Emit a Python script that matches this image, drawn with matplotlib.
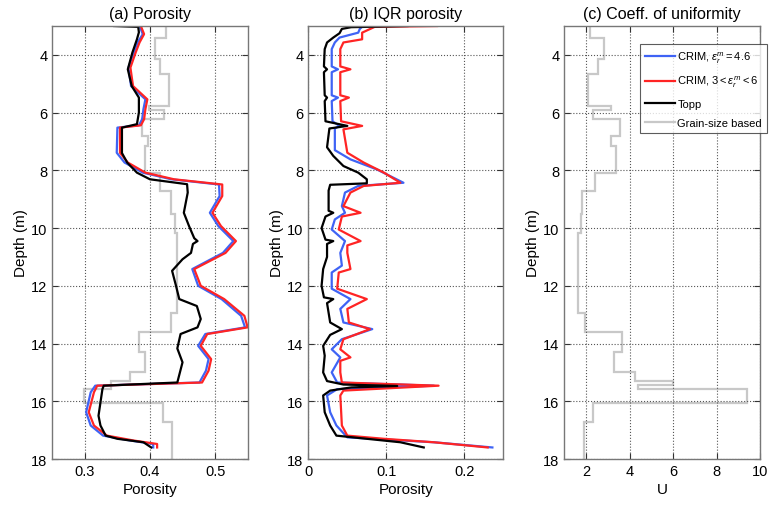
import numpy as np
import matplotlib
matplotlib.use("Agg")
import matplotlib.pyplot as plt

plt.rcParams['font.family'] = ['Liberation Sans', 'DejaVu Sans']
plt.rcParams['mathtext.fontset'] = 'custom'
plt.rcParams['mathtext.rm'] = 'Liberation Sans'
plt.rcParams['mathtext.it'] = 'Liberation Sans:italic'

# ---- (a) porosity ----
topp_depth = [3.00, 3.03, 3.22, 3.46, 3.92, 4.50, 5.08, 5.48, 6.00, 6.40, 6.52, 7.40, 7.73,
              8.08, 8.31, 8.48, 8.77, 9.47, 9.93, 10.35, 10.45, 10.55, 10.86, 11.08, 11.48,
              12.00, 12.46, 12.70, 13.15, 13.44, 13.67, 14.17, 14.65, 15.35, 15.46, 15.58,
              16.04, 16.50, 16.84, 17.19, 17.30, 17.42, 17.60]
topp_por = [0.345, 0.382, 0.383, 0.380, 0.373, 0.366, 0.372, 0.383, 0.383, 0.380, 0.357, 0.357, 0.365,
            0.380, 0.400, 0.457, 0.458, 0.452, 0.460, 0.468, 0.473, 0.466, 0.463, 0.450, 0.434,
            0.440, 0.445, 0.472, 0.478, 0.473, 0.447, 0.442, 0.450, 0.442, 0.329, 0.327,
            0.324, 0.321, 0.324, 0.332, 0.350, 0.390, 0.402]

crim_depth = [3.00, 3.28, 3.57, 3.92, 4.44, 5.08, 5.54, 5.88, 6.23, 6.44, 6.52, 7.39, 7.73,
              8.08, 8.31, 8.49, 8.89, 9.47, 9.93, 10.45, 10.86, 11.42, 12.00, 12.46, 13.04,
              13.44, 13.67, 14.08, 14.54, 14.94, 15.35, 15.46, 15.69, 16.38, 16.84, 17.19,
              17.36, 17.48, 17.60]
crim46_por = [0.384, 0.389, 0.381, 0.375, 0.367, 0.371, 0.393, 0.390, 0.388, 0.383, 0.350, 0.349, 0.361,
              0.389, 0.433, 0.506, 0.507, 0.492, 0.505, 0.528, 0.512, 0.465, 0.474, 0.510, 0.540,
              0.546, 0.485, 0.474, 0.490, 0.486, 0.476, 0.316, 0.309, 0.302, 0.309, 0.328,
              0.370, 0.405, 0.405]
crim36_por = [0.386, 0.391, 0.384, 0.378, 0.370, 0.374, 0.396, 0.393, 0.391, 0.386, 0.354, 0.354, 0.366,
              0.393, 0.437, 0.511, 0.511, 0.496, 0.509, 0.532, 0.516, 0.468, 0.478, 0.514, 0.545,
              0.550, 0.488, 0.478, 0.494, 0.490, 0.480, 0.319, 0.314, 0.306, 0.314, 0.334,
              0.375, 0.411, 0.411]

# grain-size based (step profiles)
grain_edges = [3.0, 3.43, 4.15, 4.67, 5.77, 5.9, 6.23, 6.8, 7.16, 8.08, 8.72, 9.5, 10.16,
               12.94, 13.6, 14.3, 14.97, 15.3, 15.42, 15.57, 16.07, 16.72, 18.0]
grain_por = [0.424, 0.407, 0.415, 0.429, 0.399, 0.421, 0.388, 0.397, 0.392, 0.416, 0.432, 0.438,
             0.441, 0.432, 0.383, 0.392, 0.370, 0.340, 0.340, 0.298, 0.420, 0.434]
grain_u = [2.2, 2.83, 2.56, 2.1, 3.13, 2.33, 3.55, 3.13, 3.36, 2.42, 1.8, 1.75,
           1.65, 1.95, 3.66, 3.28, 4.26, 6.0, 4.4, 9.4, 2.34, 1.9]

# ---- (b) IQR porosity ----
iqr_topp_depth = [3.00, 3.04, 3.10, 3.25, 3.40, 3.57, 3.80, 4.40, 4.50, 4.60, 5.40, 5.48, 5.60,
                  6.30, 6.46, 6.55, 7.20, 7.50, 7.85, 8.08, 8.31, 8.45, 8.50, 8.70, 9.40, 9.47,
                  9.60, 10.00, 10.40, 10.45, 10.55, 11.00, 11.42, 12.00, 12.40, 12.46, 12.60,
                  13.27, 13.50, 13.70, 14.08, 14.42, 15.00, 15.30, 15.42, 15.47, 15.52, 15.63,
                  15.80, 16.38, 16.84, 17.19, 17.30, 17.42, 17.60]
iqr_topp = [0.127, 0.055, 0.043, 0.040, 0.032, 0.024, 0.021, 0.020, 0.024, 0.020, 0.021, 0.024, 0.021,
            0.022, 0.050, 0.027, 0.024, 0.032, 0.045, 0.064, 0.075, 0.075, 0.028, 0.026, 0.026, 0.032,
            0.022, 0.017, 0.022, 0.032, 0.024, 0.024, 0.019, 0.017, 0.020, 0.032, 0.024,
            0.028, 0.043, 0.028, 0.019, 0.021, 0.019, 0.024, 0.045, 0.114, 0.055, 0.028,
            0.019, 0.021, 0.028, 0.036, 0.075, 0.118, 0.148]

iqr_c46_depth = [3.00, 3.10, 3.23, 3.40, 3.57, 3.80, 4.40, 4.50, 4.60, 5.40, 5.48, 5.60, 6.30,
                 6.46, 6.55, 7.30, 7.62, 7.97, 8.43, 8.54, 8.77, 9.24, 9.47, 9.70, 10.05, 10.45,
                 10.86, 11.30, 11.54, 12.10, 12.46, 12.80, 13.27, 13.50, 13.85, 14.20, 14.48,
                 15.00, 15.35, 15.46, 15.58, 15.80, 16.38, 16.84, 17.25, 17.42, 17.60]
iqr_c46 = [0.070, 0.066, 0.064, 0.040, 0.034, 0.030, 0.030, 0.038, 0.030, 0.030, 0.038, 0.030, 0.031,
           0.040, 0.034, 0.034, 0.054, 0.088, 0.122, 0.064, 0.047, 0.043, 0.047, 0.034, 0.030, 0.047,
           0.041, 0.043, 0.030, 0.030, 0.054, 0.041, 0.045, 0.082, 0.043, 0.030, 0.041,
           0.030, 0.037, 0.161, 0.037, 0.024, 0.028, 0.036, 0.050, 0.161, 0.236]

iqr_c36_depth = [3.00, 3.03, 3.23, 3.46, 3.57, 3.80, 4.40, 4.50, 4.60, 5.40, 5.48, 5.60, 6.30,
                 6.46, 6.58, 7.39, 7.73, 8.08, 8.43, 8.54, 8.77, 9.24, 9.47, 9.60, 10.05, 10.45,
                 10.60, 10.86, 11.42, 11.54, 12.10, 12.46, 12.80, 13.27, 13.50, 13.85, 14.20,
                 14.48, 14.60, 15.00, 15.35, 15.46, 15.63, 15.80, 16.84, 17.19, 17.30, 17.42, 17.60]
iqr_c36 = [0.165, 0.085, 0.069, 0.069, 0.045, 0.041, 0.041, 0.054, 0.041, 0.041, 0.052, 0.041, 0.042,
           0.069, 0.045, 0.050, 0.071, 0.097, 0.118, 0.071, 0.054, 0.045, 0.067, 0.043, 0.039, 0.067,
           0.050, 0.050, 0.054, 0.039, 0.037, 0.075, 0.050, 0.052, 0.079, 0.045, 0.041,
           0.054, 0.041, 0.041, 0.043, 0.167, 0.045, 0.041, 0.043, 0.050, 0.097, 0.161, 0.230]

blue = '#3f63f5'
red = '#ff2424'
gray = '#c8c8c8'
lw = 1.6


def style(ax, xlim, xticks, xlabel, title):
    ax.set_xlim(xlim)
    ax.set_ylim(18, 3)
    ax.set_xticks(xticks)
    ax.set_yticks(np.arange(4, 19, 2))
    ax.grid(True, linestyle=':', color='#555555', linewidth=0.8)
    ax.tick_params(direction='in', top=True, right=True, length=4, labelsize=10.5, color='#333333')
    for s in ax.spines.values():
        s.set_color('#777777')
        s.set_linewidth(1.0)
    ax.set_xlabel(xlabel, fontsize=11, labelpad=3)
    ax.set_ylabel('Depth (m)', fontsize=11, labelpad=2)
    ax.set_title(title, fontsize=11.5, pad=6)


fig = plt.figure(figsize=(7.79, 5.06), dpi=100)
ax1 = fig.add_axes([0.0671, 0.0909, 0.2508, 0.8557])
ax2 = fig.add_axes([0.3958, 0.0909, 0.2503, 0.8557])
ax3 = fig.add_axes([0.7244, 0.0909, 0.2512, 0.8557])

ax1.stairs(grain_por, grain_edges, orientation='horizontal', baseline=None, color=gray, lw=lw)
ax1.plot(crim46_por, crim_depth, color=blue, lw=lw)
ax1.plot(crim36_por, crim_depth, color=red, lw=lw)
ax1.plot(topp_por, topp_depth, color='k', lw=lw)
style(ax1, (0.25, 0.55), [0.3, 0.4, 0.5], 'Porosity', '(a) Porosity')

ax2.plot(iqr_c46, iqr_c46_depth, color=blue, lw=lw)
ax2.plot(iqr_c36, iqr_c36_depth, color=red, lw=lw)
ax2.plot(iqr_topp, iqr_topp_depth, color='k', lw=lw)
style(ax2, (0, 0.25), [0, 0.1, 0.2], 'Porosity', '(b) IQR porosity')
ax2.set_xticklabels(['0', '0.1', '0.2'])

ax3.plot([], [], color=blue, lw=lw, label=r'CRIM, $\varepsilon_r^m = 4.6$')
ax3.plot([], [], color=red, lw=lw, label=r'CRIM, $3 < \varepsilon_r^m < 6$')
ax3.plot([], [], color='k', lw=lw, label='Topp')
ax3.stairs(grain_u, grain_edges, orientation='horizontal', baseline=None, color=gray, lw=lw,
           label='Grain-size based')
style(ax3, (1, 10), [2, 4, 6, 8, 10], 'U', '(c) Coeff. of uniformity')

leg = ax3.legend(loc='upper left', bbox_to_anchor=(0.385, 0.958), borderaxespad=0,
                 fontsize=8, frameon=True, fancybox=False, edgecolor='#333333',
                 handlelength=2.7, handletextpad=0.25, labelspacing=0.85, borderpad=0.45)
leg.get_frame().set_linewidth(0.8)

fig.savefig('out.png', dpi=100)
